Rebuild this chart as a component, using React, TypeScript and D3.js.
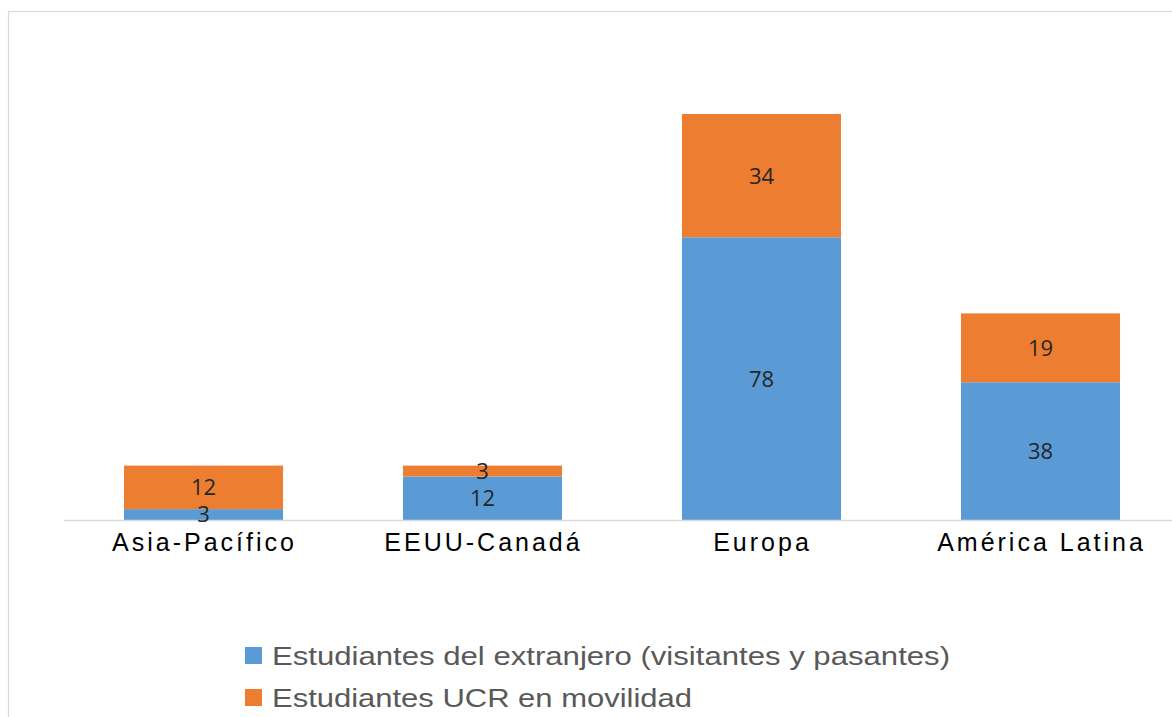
import React from "react";
import * as d3 from "d3";

const categories = ["Asia-Pacífico", "EEUU-Canadá", "Europa", "América Latina"];
const extranjero = [3, 12, 78, 38];
const ucr = [12, 3, 34, 19];
const seriesNames = [
  "Estudiantes del extranjero (visitantes y pasantes)",
  "Estudiantes UCR en movilidad",
];
const legendLengths = [678, 420];
const colors = ["#5B9BD5", "#ED7D31"];

export default function App() {
  const W = 1172;
  const H = 717;
  const x = d3
    .scaleBand<string>()
    .domain(categories)
    .range([64, 1180])
    .paddingInner(0.43)
    .paddingOuter(0.215);
  const y = d3.scaleLinear().domain([0, 120]).range([520, 520 - 120 * 3.625]);

  const rows = categories.map((c, i) => ({ c, a: extranjero[i], b: ucr[i] }));
  const stack = d3.stack<any>().keys(["a", "b"])(rows as any);

  return (
    <svg
      width={W}
      height={H}
      style={{ position: "absolute", left: 0, top: 0, background: "#fff" }}
      fontFamily="'Liberation Sans', Arial, sans-serif"
    >
      <rect x={8.5} y={11.5} width={1200} height={800} fill="#fff" stroke="#d9d9d9" strokeWidth={1.2} />
      {stack.map((layer, si) =>
        layer.map((d, i) => {
          const x0 = x(categories[i])!;
          const y0 = y(d[1]);
          const y1 = y(d[0]);
          return (
            <g key={`${si}-${i}`}>
              <rect x={x0} y={y0} width={x.bandwidth()} height={y1 - y0} fill={colors[si]} />
            </g>
          );
        })
      )}
      <line x1={64} x2={1180} y1={520.5} y2={520.5} stroke="#d9d9d9" strokeWidth={1.5} />
      {stack.map((layer, si) =>
        layer.map((d, i) => {
          const cx = x(categories[i])! + x.bandwidth() / 2;
          const cy = (y(d[0]) + y(d[1])) / 2;
          const v = d[1] - d[0];
          return (
            <text
              key={`l${si}-${i}`}
              x={cx}
              y={cy}
              dy="0.36em"
              textAnchor="middle"
              fontSize={22}
              fill="#262626"
              fontFamily="'Open Sans', 'Liberation Sans', sans-serif"
            >
              {v}
            </text>
          );
        })
      )}
      {categories.map((c) => (
        <text
          key={c}
          x={x(c)! + x.bandwidth() / 2 + 1}
          y={551}
          textAnchor="middle"
          fontSize={25}
          letterSpacing={3}
          fill="#000"
        >
          {c}
        </text>
      ))}
      {seriesNames.map((s, i) => (
        <g key={s} transform={`translate(245, ${647 + i * 42})`}>
          <rect x={0} y={0} width={17} height={17} fill={colors[i]} />
          <text
            x={27}
            y={18}
            fontSize={26}
            fill="#595959"
            textLength={legendLengths[i]}
            lengthAdjust="spacingAndGlyphs"
          >
            {s}
          </text>
        </g>
      ))}
    </svg>
  );
}
